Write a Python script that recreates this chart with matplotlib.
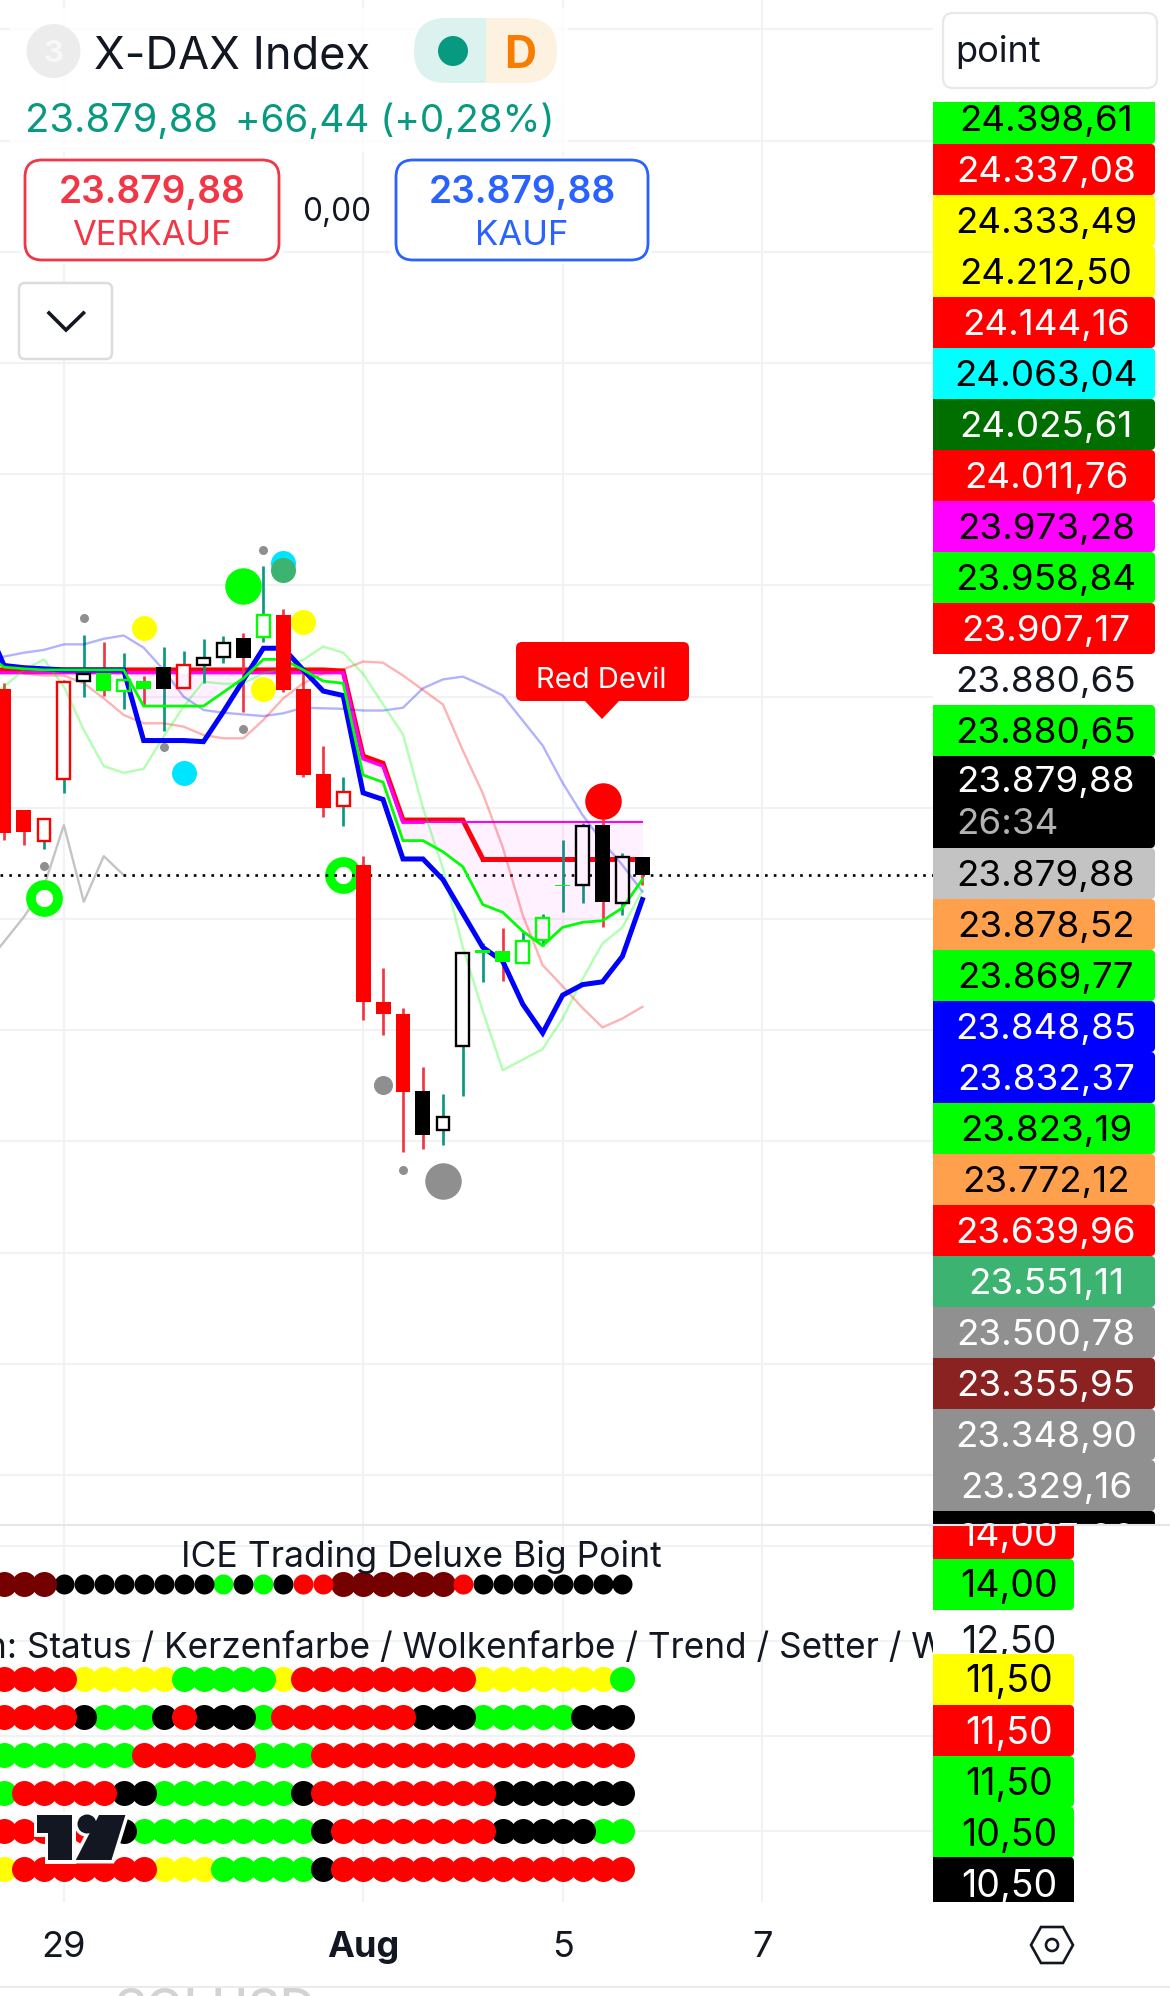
import numpy as np
import matplotlib
matplotlib.use("Agg")
import matplotlib.pyplot as plt
from matplotlib.patches import Rectangle, FancyBboxPatch, PathPatch, Circle, Polygon
from matplotlib.path import Path

plt.rcParams['font.family'] = ['Inter', 'DejaVu Sans']

# ---------- price candles ----------
opens  = [24214,23996,23941,24052,24228,24242,24229,24228,24214,24216,24257,24271,24269,24307,24347,24214,24061,24004,
          23898,23650,23630,23490,23420,23571,23738,23722,23720,23762,23859,23861,23969,23829,23911]
closes = [23955,23956,23980,24227,24241,24210,24211,24214,24253,24257,24270,24297,24305,24346,24212,24059,24000,24029,
          23650,23630,23489,23412,23444,23738,23745,23742,23760,23802,23862,23967,23830,23911,23880]
highs  = [24224,23996,23980,24230,24311,24298,24278,24237,24289,24282,24304,24309,24314,24435,24358,24248,24111,24055,
          23914,23712,23640,23533,23485,23738,23757,23784,23778,23809,23942,23972,23979,23919,23911]
lows   = [23942,23933,23926,24026,24200,24201,24178,24183,24138,24216,24224,24260,24172,24298,24208,24055,23983,23967,
          23619,23592,23381,23387,23394,23481,23686,23689,23720,23752,23812,23828,23786,23808,23861]
body_colors = ['red','red','red','red','black','lime','lime','lime','black','red','black','black','black','lime','red','red','red','red',
               'red','red','red','black','black','black','lime','lime','lime','lime','lime','black','black','black','black']
body_hollow = [0,0,1,1,1,0,1,0,0,1,1,1,0,1,0,0,0,1,
               0,0,0,0,1,1,0,0,1,1,0,1,0,1,0]
wick_colors = ['d','d','u','u','u','d','u','d','u','u','u','u','d','u','d','d','d','u',
               'd','d','d','d','u','u','u','d','u','u','u','u','d','u','d']

# ---------- indicator lines (first value is one bar left of the frame) ----------
line_blue = [24340,24256,24252,24250,24248,24248,24248,24248,24121,24121,24121,24119,24173,24230,24287,24287,24248,24210,24202,
             24027,24015,23908,23908,23871,23810,23749,23724,23647,23595,23663,23682,23687,23733,23835]
line_green = [24280,24253,24250,24248,24248,24248,24248,24248,24183,24183,24183,24183,24208,24233,24267,24267,24248,24228,24224,
              24059,24046,23941,23941,23921,23894,23826,23812,23778,23752,23785,23794,23797,23820,23871]
line_red = [24248]*18 + [24246,24093,24080,23978,23978,23978,23978] + [23908]*9
line_magenta = [24243]*19 + [24088,24075] + [23974]*13
faint_blue = [24262,24272,24279,24284,24294,24294,24304,24310,24288,24248,24200,24176,24171,24168,24165,24170,24180,24179,24178,
              24175,24175,24180,24215,24231,24236,24220,24202,24157,24112,24045,23987,23939,23897,23849]
faint_red = [24270,24260,24242,24238,24238,24224,24197,24167,24152,24152,24146,24131,24125,24125,24158,24197,24224,24242,24249,
             24263,24261,24238,24212,24186,24103,24026,23929,23807,23717,23679,23640,23605,23621,23642]
faint_green = [24190,24218,24248,24267,24218,24140,24075,24063,24070,24128,24182,24227,24223,24224,24242,24251,24266,24290,24279,
               24241,24186,24132,24000,23891,23749,23634,23528,23547,23566,23621,23692,23756,23785,23852]
gray_line = [23714,23759,23804,23858,23969,23831,23913,23879]

last_price = 23879.88

# ---------- circle signals ----------
small_gray_i = [4,13,8,12,2,20]
small_gray_p = [24341,24463,24109,24141,23895,23348.90]
yellow_i = [7,13,15]
yellow_p = [24323,24213,24334]
lime_i = [12]; lime_p = [24398.61]
cyan_i = [14,9]; cyan_p = [24441,24063.04]
seagreen_i = [14]; seagreen_p = [24428]
ring_i = [2,17]; ring_p = [23838,23880]
red_i = [30]; red_p = [24011.76]
mid_gray_i = [19]; mid_gray_p = [23500.78]
big_gray_i = [22]; big_gray_p = [23329.16]

# ---------- lower pane dot rows ----------
row_levels = [14, 11.5, 10.5, 9.5, 8.5, 7.5, 6.5]
row_codes = [
    "DDDKKKKKKKKGKGKRRDDDDDDRKKKKKKKK",
    "RRRRYYYYYGGGGGYRRRRRRRRRYYYYYYYG",
    "RRRRKGGGKRKKKGRRRRRRRKKKGGGGGKKK",
    "GGGGGGGRRRRRRGGGRRRRRRRRRRRRRRRR",
    "GRRRRRKKGGGGGGGKRRRRRRRRRKKKKKKK",
    "RRRRRRKGGGGGGGGGKRRRRRRRRKKKKKGG",
    "YRRRRRRRYYYGGGGGKRRRRRRRRRRRRRRR",
]
code_color = {'R':'#ff0000','G':'#00ff00','K':'#000000','Y':'#ffff00','D':'#750000'}
code_rank  = {'Y':0,'G':1,'K':2,'D':3,'R':4}

# ---------- axis ticks ----------
tick_idx = [3,18,28,38]
tick_txt = ['29','Aug','5','7']
main_grid = [22800,23000,23200,23400,23600,23800,24000,24200,24400,24600,24800,25000,25200,25400]
sub_grid = [7.5,10,12.5,15]

# ---------- price panel labels ----------
main_labels = ['24.398,61','24.337,08','24.333,49','24.212,50','24.144,16','24.063,04','24.025,61','24.011,76','23.973,28',
               '23.958,84','23.907,17','23.880,65','23.880,65','23.879,88','23.879,88','23.878,52','23.869,77','23.848,85',
               '23.832,37','23.823,19','23.772,12','23.639,96','23.551,11','23.500,78','23.355,95','23.348,90','23.329,16','23.307,02']
main_bg = ['#00ff00','#ff0000','#ffff00','#ffff00','#ff0000','#00ffff','#006f00','#ff0000','#ff00ff','#00ff00','#ff0000',None,'#00ff00',
           '#000000','#c3c3c3','#ffa04d','#00ff00','#0000ff','#0000ff','#00ff00','#ffa04d','#ff0000','#3cb371','#909090','#8b2222','#909090','#909090','#000000']
main_fg = ['k','w','k','k','w','k','w','w','k','k','w','#131722','k','w','k','k','k','w','w','k','k','w','w','w','w','w','w','w']
sub_labels = ['14,00','14,00','12,50','11,50','11,50','11,50','10,50','10,50']
sub_bg = ['#ff0000','#00ff00',None,'#ffff00','#ff0000','#00ff00','#00ff00','#000000']
sub_fg = ['w','k','#131722','k','w','k','k','w']

W, H, DPI = 1170, 1996, 100
fig = plt.figure(figsize=(W/DPI, H/DPI), dpi=DPI, facecolor='white')
PAN = 933
GRID = '#f1f2f4'
STEP = 19.95
xlim = (-4/STEP, (PAN-4)/STEP)

ax = fig.add_axes([0, (H-1525)/H, PAN/W, 1525/H])
ax.set_xlim(*xlim)
ax.set_ylim(22710, 25453)
sub = fig.add_axes([0, (H-1902)/H, PAN/W, (1902-1525)/H])
sub.set_xlim(*xlim)
sub.set_ylim(14-(1902-1584)/38, 14+(1584-1525)/38)

for a in (ax, sub):
    for s in a.spines.values():
        s.set_visible(False)
    a.set_axisbelow(True)
    a.grid(True, color=GRID, lw=1.5)
    a.tick_params(length=0)
ax.set_xticks(tick_idx); ax.set_yticks(main_grid)
ax.set_xticklabels([]); ax.set_yticklabels([])
sub.set_yticks(sub_grid); sub.set_yticklabels([])
sub.set_xticks(tick_idx)
sub.set_xticklabels(tick_txt, fontsize=26, color='#131722')
sub.tick_params(axis='x', pad=21)
sub.get_xticklabels()[1].set_fontweight('bold')

line_x = np.arange(-1, 33)
ax.scatter(ring_i, ring_p, s=(27/1.389)**2, facecolor='white', edgecolor='#00ff00', lw=7.0, zorder=2.5)
ax.plot(line_x[:len(gray_line)], gray_line, color='#c4c4c4', lw=1.7, zorder=2)
ax.plot(line_x[:26], line_red[:26], color='#ff0000', lw=3.6, zorder=3.0, solid_joinstyle='miter')
ax.plot(line_x[25:], line_red[25:], color='#ff0000', lw=3.6, zorder=3.0)
ax.plot(line_x[:23], line_magenta[:23], color='#ff00ff', lw=2.4, zorder=3.05, solid_joinstyle='miter')
ax.plot(line_x[22:], line_magenta[22:], color='#ff00ff', lw=1.5, zorder=3.05)
ax.axhline(last_price, color='black', lw=1.9, ls=(0, (1, 2.33)), zorder=3.1)

cx = np.arange(len(opens))
wc = {'u':'#089981','d':'#f23645'}
ax.vlines(cx, lows, highs, colors=[wc[w] for w in wick_colors], lw=1.95, zorder=3.15)
for i in cx:
    lo, hi = sorted((opens[i], closes[i]))
    if body_hollow[i]:
        ax.bar(i, hi-lo, bottom=lo, width=.64, facecolor='white', lw=0, zorder=3.2)
        ax.bar(i, hi-lo, bottom=lo, width=.64, facecolor='none', edgecolor=body_colors[i], lw=1.7, zorder=4.2)
    else:
        ax.bar(i, hi-lo, bottom=lo, width=.75, color=body_colors[i], lw=0, zorder=4.2)

ax.fill_between(line_x, line_magenta, line_green, color='#ff00ff', alpha=.055, lw=0, zorder=3.25)
ax.plot(line_x, faint_blue, color='#0000ff', alpha=.3, lw=1.7, zorder=3.3)
ax.plot(line_x, faint_red, color='#ff0000', alpha=.3, lw=1.7, zorder=3.3)
ax.plot(line_x, faint_green, color='#00ff00', alpha=.3, lw=1.7, zorder=3.3)
ax.plot(line_x, line_blue, color='#0000ff', lw=3.6, zorder=3.35, solid_joinstyle='miter')
ax.plot(line_x, line_green, color='#00ff00', lw=2.0, zorder=3.4, solid_joinstyle='miter')

def dots(xs, ys, color, d_px):
    ax.scatter(xs, ys, s=(d_px/1.389)**2, color=color, lw=0, zorder=5)
dots(cyan_i, cyan_p, '#00e5ff', 25)
dots(seagreen_i, seagreen_p, '#3cb371', 25)
dots(yellow_i, yellow_p, '#ffff00', 25)
dots(lime_i, lime_p, '#00ff00', 36.5)
dots(red_i, red_p, '#ff0000', 36.5)
dots(big_gray_i, big_gray_p, '#8f8f8f', 36.5)
dots(mid_gray_i, mid_gray_p, '#8f8f8f', 19)
dots(small_gray_i, small_gray_p, '#8f8f8f', 9)

for row, (level, codes) in enumerate(zip(row_levels, row_codes)):
    order = sorted(range(len(codes)), key=lambda k: code_rank[codes[k]])
    for k in order:
        c = codes[k]
        d = 25 if (row > 0 or c == 'D') else 20
        sub.scatter(k, level, s=(d/1.389)**2, color=code_color[c], lw=0, zorder=3)

# ---------- overlay in figure pixels for the app chrome ----------
ov = fig.add_axes([0, 0, 1, 1], zorder=10)
ov.set_xlim(0, W); ov.set_ylim(H, 0); ov.axis('off'); ov.patch.set_visible(False)

def rbox(x0, y0, x1, y1, r, fc='white', ec='none', lw=0, z=1, alpha=None):
    p = FancyBboxPatch((x0+r, y0+r), x1-x0-2*r, y1-y0-2*r, boxstyle=f"round,pad={r},rounding_size={r}",
                       fc=fc, ec=ec, lw=lw, zorder=z, alpha=alpha)
    ov.add_patch(p)
    return p

INK = '#131722'
TEAL = '#089981'
SELL = '#f23645'
BUY = '#2962ff'

for box in [(10, 8, 568, 152), (20, 156, 284, 264), (391, 156, 652, 264)]:
    ov.add_patch(Rectangle((box[0], box[1]), box[2]-box[0], box[3]-box[1], fc='white', alpha=.82, lw=0, zorder=.5))

ov.add_patch(Circle((53.5, 51), 27, fc='#ececec', lw=0, zorder=1))
ov.text(53.5, 51, '3', color='#f8f8f8', fontsize=22, fontweight='bold', ha='center', va='center_baseline', zorder=2)
ov.text(94, 68, 'X-DAX Index', color=INK, fontsize=32.5, ha='left', va='baseline', zorder=2)

pill = rbox(414, 18, 557, 83, 32, fc='none')
left = Rectangle((414, 18), 72, 65, fc='#dcf2ee', lw=0, zorder=1); ov.add_patch(left); left.set_clip_path(pill)
right = Rectangle((486, 18), 71, 65, fc='#fdf1e0', lw=0, zorder=1); ov.add_patch(right); right.set_clip_path(pill)
ov.add_patch(Circle((453, 51), 15, fc=TEAL, lw=0, zorder=2))
ov.text(520, 51, 'D', color='#f77c00', fontsize=32, fontweight='bold', ha='center', va='center_baseline', zorder=2)

ov.text(25, 132, '23.879,88', color=TEAL, fontsize=28.7, ha='left', va='baseline', zorder=2)
ov.text(235, 132, '+66,44 (+0,28%)', color=TEAL, fontsize=27.8, ha='left', va='baseline', zorder=2)

rbox(25, 160, 279, 260, 17, fc='white', ec=SELL, lw=2)
ov.text(152, 189, '23.879,88', color=SELL, fontsize=26.7, fontweight='semibold', ha='center', va='center_baseline', zorder=2)
ov.text(152, 232, 'VERKAUF', color=SELL, fontsize=24.8, ha='center', va='center_baseline', zorder=2)
ov.text(337, 209, '0,00', color=INK, fontsize=22.8, ha='center', va='center_baseline', zorder=2)
rbox(396, 160, 648, 260, 17, fc='white', ec=BUY, lw=2)
ov.text(522, 189, '23.879,88', color=BUY, fontsize=26.8, fontweight='semibold', ha='center', va='center_baseline', zorder=2)
ov.text(522, 232, 'KAUF', color=BUY, fontsize=25, ha='center', va='center_baseline', zorder=2)

rbox(19, 283, 112, 359, 6, fc='white', ec='#dcdcdc', lw=1.8)
ov.plot([49, 66, 83.5], [313, 330, 313], color=INK, lw=2.6, zorder=2, solid_joinstyle='miter')

# Red Devil label
rbox(516, 642, 689, 701, 6, fc='#ff0000')
ov.add_patch(Polygon([(584, 700), (620, 700), (602, 719)], fc='#ff0000', lw=0, zorder=1))
ov.text(601, 677, 'Red Devil', color='white', fontsize=21, ha='center', va='center_baseline', zorder=2)

# titles in lower pane
ov.text(421, 1554, 'ICE Trading Deluxe Big Point', color=INK, fontsize=25.6, ha='center', va='center_baseline', zorder=2)
ov.text(-14, 1658, 'n: Status / Kerzenfarbe / Wolkenfarbe / Trend / Setter / Wolke', color=INK, fontsize=25.3, ha='left', va='baseline', zorder=2)

# TradingView mark
logo_bar = [(37, 1815), (72.4, 1815), (72.4, 1860), (48.4, 1860), (48.4, 1833), (37, 1833)]
logo_slash = [(99, 1815), (125.4, 1815), (111.5, 1860), (75.8, 1860)]
for pts in (logo_bar, logo_slash):
    ov.add_patch(Polygon(pts, fc='white', ec='white', lw=5, zorder=3))
ov.add_patch(Circle((87, 1824), 10, fc='white', ec='white', lw=4, zorder=3))
for pts in (logo_bar, logo_slash):
    ov.add_patch(Polygon(pts, fc='#131722', lw=0, zorder=3.1))
ov.add_patch(Circle((87, 1824), 9.5, fc='#131722', lw=0, zorder=3.1))

# price panel
ov.add_patch(Rectangle((PAN, 0), W-PAN, H, fc='white', lw=0, zorder=4))
ov.plot([0, W], [1525, 1525], color='#e6e7ea', lw=1.5, zorder=6)
ov.plot([0, W], [1987, 1987], color='#e6e7ea', lw=1.2, zorder=6)

def side_box(x0, x1, y0, y1, fc, z=5, r=4.5):
    verts = [(x0, y0), (x1-r, y0), (x1, y0), (x1, y0+r), (x1, y1-r), (x1, y1), (x1-r, y1), (x0, y1), (x0, y0)]
    codes = [Path.MOVETO, Path.LINETO, Path.CURVE3, Path.CURVE3, Path.LINETO, Path.CURVE3, Path.CURVE3, Path.LINETO, Path.CLOSEPOLY]
    p = PathPatch(Path(verts, codes), fc=fc, lw=0, zorder=z)
    ov.add_patch(p)
    return p

clip_main = Rectangle((PAN, 102), 222, 1524-102, transform=ov.transData)
clip_sub = Rectangle((PAN, 1526), 222, 1902-1526, transform=ov.transData)

tops = []
y = 93
for k in range(len(main_labels)):
    tops.append(y)
    y += 92 if k == 13 else 51
for k, (lab, bg, fg) in enumerate(zip(main_labels, main_bg, main_fg)):
    y0 = tops[k]
    y1 = y0 + (92 if k == 13 else 51)
    if bg:
        p = side_box(PAN, 1155, y0, y1, bg, z=5+k*.001)
        p.set_clip_path(clip_main)
    ty = 779 if k == 13 else (y0+y1)/2 - .5
    t = ov.text(1046, ty, lab, color=fg, fontsize=26.5, ha='center', va='center_baseline', zorder=5.5, clip_on=True)
    t.set_clip_path(clip_main)
ov.text(1007, 821, '26:34', color='#b2b2b2', fontsize=26.5, ha='center', va='center_baseline', zorder=5.5)

sub_tops = [1508, 1559, 1613, 1654, 1705, 1756, 1807, 1857]
sub_text = [1532, 1583, 1639, 1678, 1730, 1781, 1832, 1883]
for k, (lab, bg, fg) in enumerate(zip(sub_labels, sub_bg, sub_fg)):
    if bg:
        p = side_box(PAN, 1074, sub_tops[k], sub_tops[k]+51, bg, z=5+k*.001)
        p.set_clip_path(clip_sub)
    t = ov.text(1009, sub_text[k], lab, color=fg, fontsize=27, ha='center', va='center_baseline',
                zorder=5.5 if bg else 4.5, clip_on=True)
    t.set_clip_path(clip_sub)

# point selector
rbox(943, 13, 1157, 88, 10, fc='white', ec='#e8e8e8', lw=1.6, z=5)
ov.text(955, 62, 'point', color=INK, fontsize=26, ha='left', va='baseline', zorder=6)

# settings hexagon
hx, hy = 1052, 1945
ov.add_patch(Polygon([(hx-21, hy), (hx-11, hy-18), (hx+11, hy-18), (hx+21, hy), (hx+11, hy+18), (hx-11, hy+18)],
                     fc='none', ec=INK, lw=1.9, zorder=6))
ov.add_patch(Circle((hx, hy), 6, fc='none', ec=INK, lw=1.9, zorder=6))

# clipped watermark text under the footer
ov.text(215, 2006, 'SOLUSD', color='#d3d3d3', fontsize=35.5, fontweight='medium', ha='center', va='center_baseline', zorder=2)

fig.savefig('out.png', dpi=DPI)
